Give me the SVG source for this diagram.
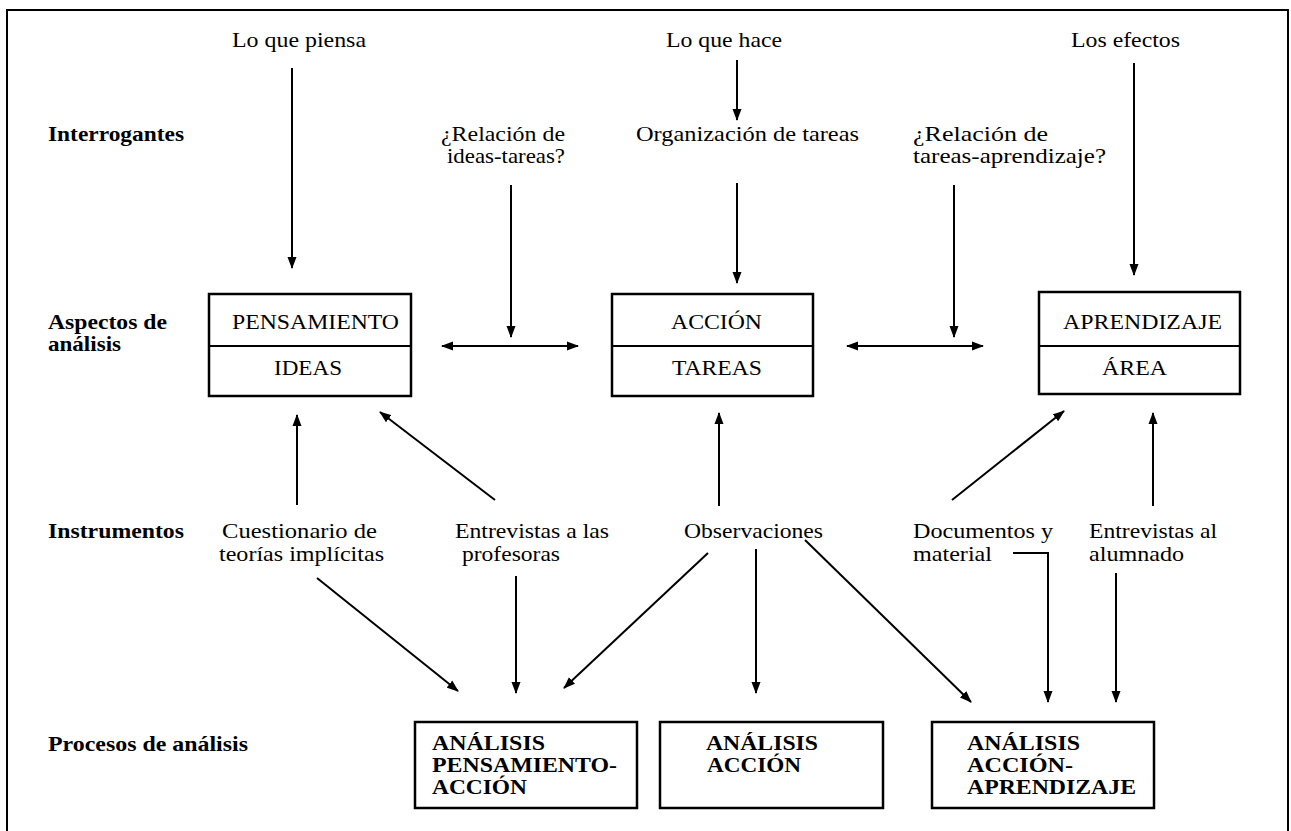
<svg xmlns="http://www.w3.org/2000/svg" width="1291" height="831" viewBox="0 0 1291 831">
<style>
text{font-family:"Liberation Serif","Times New Roman",serif;font-size:22px;fill:#000}
.b{font-weight:bold;font-size:21px}
.box{fill:#fff;stroke:#000;stroke-width:2.5}
.ln{fill:none;stroke:#000;stroke-width:2}
.c path{fill:none;stroke:#000;stroke-width:2;marker-end:url(#ah)}
.c path.d{marker-start:url(#ah)}
</style>
<defs>
<marker id="ah" markerUnits="userSpaceOnUse" markerWidth="12" markerHeight="10" refX="11" refY="5" orient="auto-start-reverse" viewBox="0 0 12 10">
<path d="M0,0.5 L12,5 L0,9.5 z" fill="#000"/>
</marker>
</defs>
<rect width="1291" height="831" fill="#fff"/>
<path class="ln" d="M7,831 V10 H1288 V831" stroke-width="2.5"/>

<g id="labels">
<text class="b" x="48" y="141" textLength="136" lengthAdjust="spacingAndGlyphs">Interrogantes</text>
<text class="b" x="48" y="329" textLength="119" lengthAdjust="spacingAndGlyphs">Aspectos de</text>
<text class="b" x="48" y="351" textLength="73" lengthAdjust="spacingAndGlyphs">análisis</text>
<text class="b" x="48" y="538" textLength="136" lengthAdjust="spacingAndGlyphs">Instrumentos</text>
<text class="b" x="48" y="751" textLength="200" lengthAdjust="spacingAndGlyphs">Procesos de análisis</text>
</g>

<g id="top-texts">
<text x="232" y="47" textLength="134" lengthAdjust="spacingAndGlyphs">Lo que piensa</text>
<text x="666" y="47" textLength="116" lengthAdjust="spacingAndGlyphs">Lo que hace</text>
<text x="1071" y="47" textLength="109" lengthAdjust="spacingAndGlyphs">Los efectos</text>
</g>

<g id="q1">
<text x="441" y="141" textLength="124" lengthAdjust="spacingAndGlyphs">¿Relación de</text>
<text x="447" y="163" textLength="118" lengthAdjust="spacingAndGlyphs">ideas-tareas?</text>
</g>
<g id="q2">
<text x="636" y="141" textLength="223" lengthAdjust="spacingAndGlyphs">Organización de tareas</text>
</g>
<g id="q3">
<text x="913" y="141" textLength="135" lengthAdjust="spacingAndGlyphs">¿Relación de</text>
<text x="913" y="163" textLength="193" lengthAdjust="spacingAndGlyphs">tareas-aprendizaje?</text>
</g>

<g id="pensamiento">
<rect class="box" x="209" y="294" width="202" height="102"/>
<line class="ln" x1="209" y1="346" x2="411" y2="346" stroke-width="2.5"/>
<text x="232" y="329" textLength="167" lengthAdjust="spacingAndGlyphs">PENSAMIENTO</text>
<text x="274" y="375" textLength="68" lengthAdjust="spacingAndGlyphs">IDEAS</text>
</g>
<g id="accion">
<rect class="box" x="612" y="294" width="201" height="102"/>
<line class="ln" x1="612" y1="346" x2="813" y2="346" stroke-width="2.5"/>
<text x="671" y="329" textLength="91" lengthAdjust="spacingAndGlyphs">ACCIÓN</text>
<text x="672" y="375" textLength="90" lengthAdjust="spacingAndGlyphs">TAREAS</text>
</g>
<g id="aprendizaje">
<rect class="box" x="1039" y="292" width="201" height="102"/>
<line class="ln" x1="1039" y1="346" x2="1240" y2="346" stroke-width="2.5"/>
<text x="1063" y="329" textLength="159" lengthAdjust="spacingAndGlyphs">APRENDIZAJE</text>
<text x="1102" y="375" textLength="65" lengthAdjust="spacingAndGlyphs">ÁREA</text>
</g>

<g id="cuestionario">
<text x="222" y="538" textLength="155" lengthAdjust="spacingAndGlyphs">Cuestionario de</text>
<text x="219" y="561" textLength="165" lengthAdjust="spacingAndGlyphs">teorías implícitas</text>
</g>
<g id="entrevistas-prof">
<text x="455" y="538" textLength="154" lengthAdjust="spacingAndGlyphs">Entrevistas a las</text>
<text x="462" y="561" textLength="98" lengthAdjust="spacingAndGlyphs">profesoras</text>
</g>
<g id="observaciones">
<text x="684" y="538" textLength="139" lengthAdjust="spacingAndGlyphs">Observaciones</text>
</g>
<g id="documentos">
<text x="913" y="538" textLength="140" lengthAdjust="spacingAndGlyphs">Documentos y</text>
<text x="913" y="561" textLength="79" lengthAdjust="spacingAndGlyphs">material</text>
</g>
<g id="entrevistas-alum">
<text x="1089" y="538" textLength="128" lengthAdjust="spacingAndGlyphs">Entrevistas al</text>
<text x="1089" y="561" textLength="95" lengthAdjust="spacingAndGlyphs">alumnado</text>
</g>

<g id="analisis-pa">
<rect class="box" x="415" y="722" width="222" height="86"/>
<text class="b" x="432" y="750" textLength="113" lengthAdjust="spacingAndGlyphs">ANÁLISIS</text>
<text class="b" x="432" y="772" textLength="185" lengthAdjust="spacingAndGlyphs">PENSAMIENTO-</text>
<text class="b" x="432" y="794" textLength="95" lengthAdjust="spacingAndGlyphs">ACCIÓN</text>
</g>
<g id="analisis-a">
<rect class="box" x="660" y="722" width="223" height="86"/>
<text class="b" x="706" y="750" textLength="112" lengthAdjust="spacingAndGlyphs">ANÁLISIS</text>
<text class="b" x="707" y="772" textLength="94" lengthAdjust="spacingAndGlyphs">ACCIÓN</text>
</g>
<g id="analisis-aa">
<rect class="box" x="932" y="722" width="222" height="86"/>
<text class="b" x="967" y="750" textLength="113" lengthAdjust="spacingAndGlyphs">ANÁLISIS</text>
<text class="b" x="967" y="772" textLength="106" lengthAdjust="spacingAndGlyphs">ACCIÓN-</text>
<text class="b" x="967" y="794" textLength="169" lengthAdjust="spacingAndGlyphs">APRENDIZAJE</text>
</g>

<g id="connectors" class="c">
<path d="M292,68 V268"/>
<path d="M737,60 V120"/>
<path d="M511,185 V337"/>
<path d="M737,183 V283"/>
<path d="M954,185 V337"/>
<path d="M1134,63 V275"/>
<path class="d" d="M442,346 H578"/>
<path class="d" d="M847,346 H983"/>
<path d="M297,505 V415"/>
<path d="M495,500 L380,412"/>
<path d="M719,506 V413"/>
<path d="M952,500 L1064,411"/>
<path d="M1153,506 V413"/>
<path d="M317,578 L458,691"/>
<path d="M516,576 V693"/>
<path d="M708,553 L564,688"/>
<path d="M756,549 V693"/>
<path d="M805,540 L971,702"/>
<path d="M1013,553 H1048 V702"/>
<path d="M1116,573 V702"/>
</g>
</svg>
